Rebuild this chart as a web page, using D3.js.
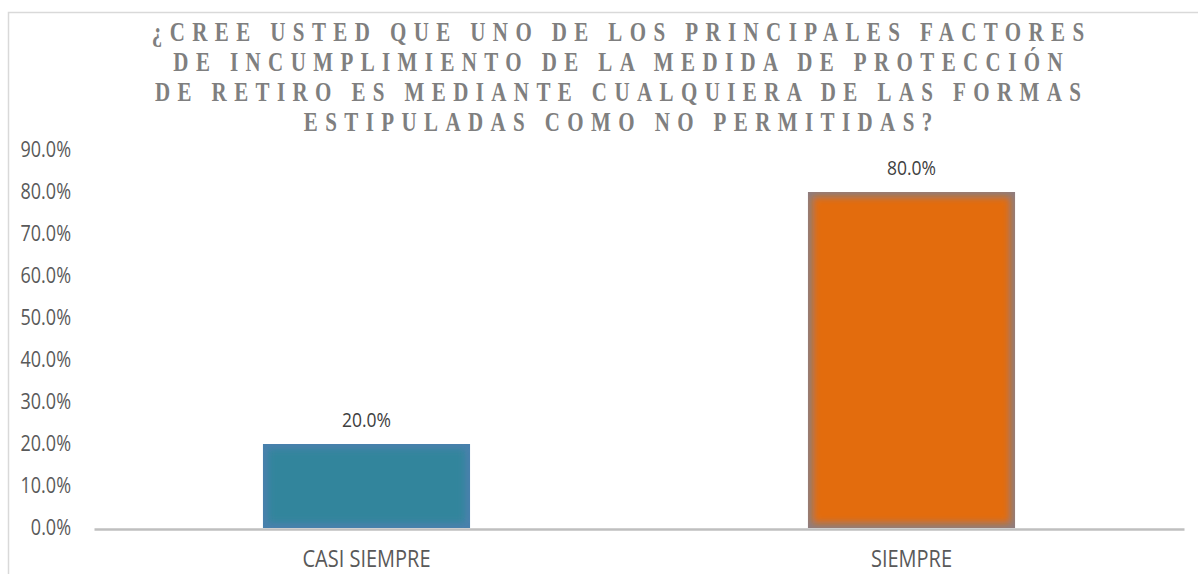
<!DOCTYPE html>
<html>
<head>
<meta charset="utf-8">
<script src="https://cdn.jsdelivr.net/npm/d3@7"></script>
<style>
  body { margin: 0; background: #fff; }
  svg { display: block; }
</style>
</head>
<body>
<div id="chart"></div>
<script>
// Data
var categories = ['CASI SIEMPRE', 'SIEMPRE'];
var values = [0.20, 0.80];
var yTicks = [0, 0.1, 0.2, 0.3, 0.4, 0.5, 0.6, 0.7, 0.8, 0.9];
var titleLines = [
  '¿CREE USTED QUE UNO DE LOS PRINCIPALES FACTORES',
  'DE INCUMPLIMIENTO DE LA MEDIDA DE PROTECCIÓN',
  'DE RETIRO ES MEDIANTE CUALQUIERA DE LAS FORMAS',
  'ESTIPULADAS COMO NO PERMITIDAS?'
];
var barColors = ['#31859c', '#e36c09'];
var edgeColors = ['#4a80ad', '#8f7d7e'];

var W = 1198, H = 574;

var svg = d3.select('#chart').append('svg')
    .attr('width', W)
    .attr('height', H);

var defs = svg.append('defs');
defs.append('filter')
    .attr('id', 'soft')
    .attr('x', '-20%').attr('y', '-20%')
    .attr('width', '140%').attr('height', '140%')
  .append('feGaussianBlur')
    .attr('stdDeviation', 3.5);

// chart frame (only top and left edges show)
svg.append('path')
    .attr('d', 'M8.5,' + H + 'V12.5H' + W)
    .attr('fill', 'none')
    .attr('stroke', '#d9d9d9')
    .attr('stroke-width', 1.5);

// scales
var x = d3.scaleBand().domain(categories).range([94, 1184]).padding(0);
var y = d3.scaleLinear().domain([0, 0.9]).range([528, 150]);
var barW = x.bandwidth() * 0.38;

// title
var ls = 7.4;
svg.append('g').selectAll('text')
    .data(titleLines)
    .enter().append('text')
    .attr('transform', function(d, i) {
      return 'translate(' + (618 + ls / 2) + ',' + (41 + i * 30) + ') scale(1,1.32)';
    })
    .attr('text-anchor', 'middle')
    .style('font-family', '"Liberation Serif", "Times New Roman", serif')
    .style('font-weight', 'bold')
    .style('font-size', '21px')
    .style('letter-spacing', ls + 'px')
    .attr('fill', '#7f7f7f')
    .text(function(d) { return d; });

// y axis labels
var yAxis = svg.append('g')
    .attr('transform', 'translate(74,0)')
    .call(d3.axisLeft(y)
      .tickValues(yTicks)
      .tickFormat(d3.format('.1%'))
      .tickSize(0)
      .tickPadding(3));
yAxis.select('.domain').remove();
yAxis.selectAll('text')
    .attr('transform', 'scale(1,1.18)')
    .style('font-family', '"Open Sans", sans-serif')
    .style('font-size', '18px')
    .attr('fill', '#595959');

// bars
var bars = svg.append('g').selectAll('g')
    .data(values)
    .enter().append('g');

bars.each(function(d, i) {
  var g = d3.select(this);
  var bx = x(categories[i]) + (x.bandwidth() - barW) / 2;
  var by = y(d);
  var bh = y(0) - y(d);
  defs.append('clipPath').attr('id', 'clip' + i)
    .append('rect').attr('x', bx).attr('y', by).attr('width', barW).attr('height', bh);
  // edge colour underneath, soft inner fill on top
  g.append('rect')
      .attr('x', bx).attr('y', by)
      .attr('width', barW).attr('height', bh)
      .attr('fill', edgeColors[i]);
  g.append('g')
      .attr('clip-path', 'url(#clip' + i + ')')
    .append('rect')
      .attr('x', bx + 5).attr('y', by + 5)
      .attr('width', barW - 10).attr('height', Math.max(bh - 10, 0))
      .attr('fill', barColors[i])
      .attr('filter', 'url(#soft)');
});

// data labels
svg.append('g').selectAll('text')
    .data(values)
    .enter().append('text')
    .attr('transform', function(d, i) {
      return 'translate(' + (x(categories[i]) + x.bandwidth() / 2) + ',' + (y(d) - 17) + ') scale(1,1.18)';
    })
    .attr('text-anchor', 'middle')
    .style('font-family', '"Open Sans", sans-serif')
    .style('font-size', '17.5px')
    .attr('fill', '#404040')
    .text(function(d) { return d3.format('.1%')(d); });

// x axis
var xAxis = svg.append('g')
    .attr('transform', 'translate(0,529)')
    .call(d3.axisBottom(x).tickSize(0));
xAxis.select('.domain')
    .attr('stroke', '#bfbfbf')
    .attr('stroke-width', 2.5);
xAxis.selectAll('text')
    .attr('y', 0).attr('dy', 0)
    .attr('transform', 'translate(0,38) scale(1,1.15)')
    .style('font-family', '"Open Sans", sans-serif')
    .style('font-size', '20px')
    .attr('fill', '#595959');
</script>
</body>
</html>
